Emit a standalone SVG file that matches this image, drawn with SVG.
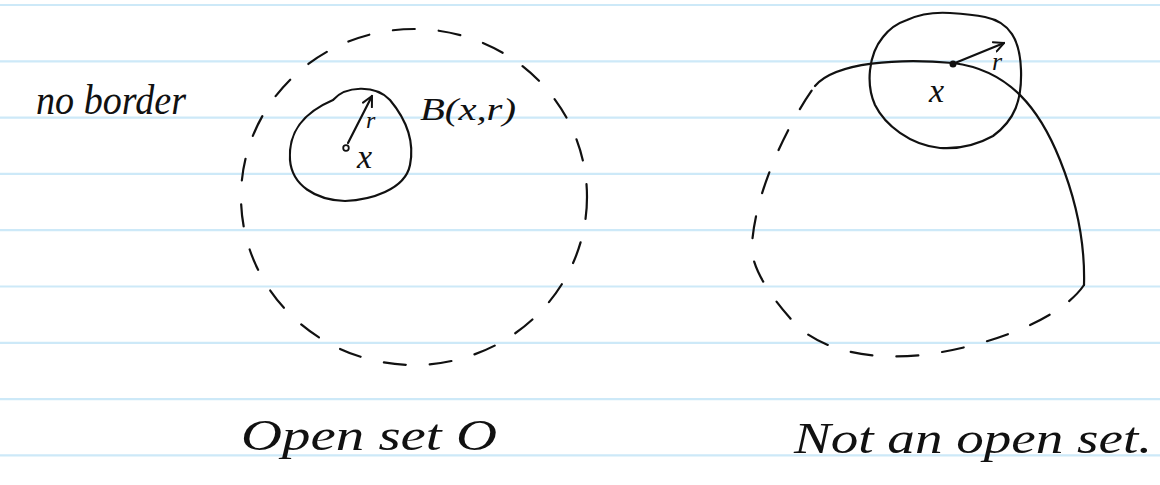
<svg xmlns="http://www.w3.org/2000/svg" width="1160" height="485" viewBox="0 0 1160 485">
<style>
.rule{stroke:#cde9f8;stroke-width:2.2}
.ink{fill:none;stroke:#111;stroke-width:2.2;stroke-linecap:round;stroke-linejoin:round}
.dash{stroke-dasharray:22 24}
.t{font-family:"Liberation Serif",serif;font-style:italic;fill:#111}
</style>
<defs>
<marker id="head" viewBox="0 0 12 12" refX="11" refY="6" markerWidth="12" markerHeight="12" markerUnits="userSpaceOnUse" orient="auto">
<polyline points="1,1 11,6 1,11" fill="none" stroke="#111" stroke-width="2" stroke-linecap="round" stroke-linejoin="round"/>
</marker>
</defs>
<rect width="1160" height="485" fill="#fff"/>
<g id="ruling">
<line class="rule" x1="0" y1="5" x2="1160" y2="5"/>
<line class="rule" x1="0" y1="61.3" x2="1160" y2="61.3"/>
<line class="rule" x1="0" y1="117.6" x2="1160" y2="117.6"/>
<line class="rule" x1="0" y1="173.9" x2="1160" y2="173.9"/>
<line class="rule" x1="0" y1="230.2" x2="1160" y2="230.2"/>
<line class="rule" x1="0" y1="286.5" x2="1160" y2="286.5"/>
<line class="rule" x1="0" y1="342.8" x2="1160" y2="342.8"/>
<line class="rule" x1="0" y1="399.1" x2="1160" y2="399.1"/>
<line class="rule" x1="0" y1="455.4" x2="1160" y2="455.4"/>
</g>
<g id="label-no-border">
<text class="t" x="36" y="114" font-size="42" textLength="150" lengthAdjust="spacingAndGlyphs">no border</text>
</g>
<g id="open-set">
<ellipse class="ink dash" cx="414" cy="197" rx="173" ry="168"/>
</g>
<g id="ball-left">
<path class="ink" d="M 333 100 C 345 86, 375 84, 390 100 C 405 118, 415 140, 410 165 C 405 190, 370 200, 345 201 C 315 200, 292 185, 290 160 C 288 130, 305 112, 333 100 Z"/>
<circle cx="346" cy="148" r="2.8" fill="#fff" stroke="#111" stroke-width="1.8"/>
<text class="t" x="366" y="128" font-size="24">r</text>
<text class="t" x="357" y="168" font-size="34">x</text>
<text class="t" x="420" y="120" font-size="32" textLength="96" lengthAdjust="spacingAndGlyphs">B(x,r)</text>
</g>
<g id="not-open-set">
<path class="ink" d="M 815 86 C 835 62, 900 58, 953 63 C 1010 70, 1040 110, 1060 160 C 1080 210, 1085 250, 1084 285"/>
<path class="ink dash" d="M 1084 285 C 1060 320, 990 345, 930 354 C 870 362, 815 350, 790 318 C 765 290, 750 262, 752 245 C 755 190, 790 120, 815 86"/>
</g>
<g id="ball-right">
<path class="ink" d="M 907 20 C 920 14, 935 12, 950 13 C 965 14, 975 15, 985 17 C 1010 22, 1020 40, 1021 70 C 1022 100, 1015 120, 993 136 C 975 146, 955 149, 940 148 C 910 145, 885 125, 875 105 C 866 85, 868 55, 883 37 C 890 28, 898 23, 907 20 Z"/>
<circle cx="953" cy="64" r="3.5" fill="#111"/>
<text class="t" x="992" y="70" font-size="26">r</text>
<text class="t" x="929" y="102" font-size="34">x</text>
</g>
<g id="connectors">
<line class="ink" x1="348" y1="143" x2="372" y2="96" marker-end="url(#head)"/>
<line class="ink" x1="955" y1="63" x2="1004" y2="43" marker-end="url(#head)"/>
</g>
<g id="captions">
<text class="t" x="241" y="450" font-size="44" textLength="256" lengthAdjust="spacingAndGlyphs">Open set  O</text>
<text class="t" x="794" y="453" font-size="44" textLength="358" lengthAdjust="spacingAndGlyphs">Not an open set.</text>
</g>
</svg>
